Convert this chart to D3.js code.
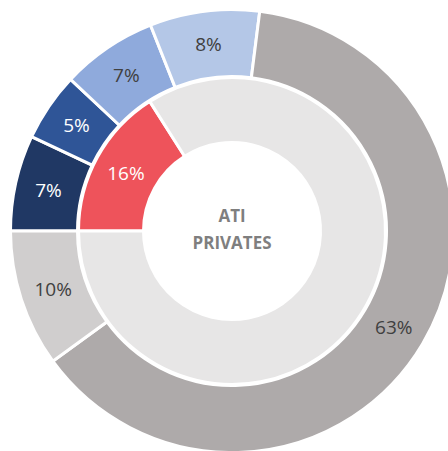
<!DOCTYPE html>
<html>
<head>
<meta charset="utf-8">
<script src="https://cdn.jsdelivr.net/npm/d3@7"></script>
<style>
  body { margin: 0; background: #fff; }
  svg { display: block; }
</style>
</head>
<body>
<svg width="448" height="451"></svg>
<script>
const svg = d3.select('svg');

// outer ring, clockwise from 9 o'clock
const outerNames = ["a", "b", "c", "d", "e", "f"];
const outerValues = [7, 5, 7, 8, 63, 10];
const outerColors = ["#203864", "#2f5597", "#8faadc", "#b4c7e7", "#aeaaaa", "#d0cece"];
const outerText = ["#ffffff", "#ffffff", "#404040", "#404040", "#404040", "#404040"];

// inner ring
const innerNames = ["ati", "rest"];
const innerValues = [16, 84];
const innerColors = ["#ee535b", "#e7e6e6"];
const innerText = ["#ffffff", null];

const centerLines = ["ATI", "PRIVATES"];

const cx = 232, cy = 231;
const start = -Math.PI / 2; // 9 o'clock

const pie = d3.pie().sort(null)
    .startAngle(start)
    .endAngle(start + 2 * Math.PI);

const g = svg.append('g').attr('transform', `translate(${cx},${cy})`);

const drawRing = (names, values, colors, textColors, r0, r1) => {
    const arcs = pie(values);
    const arc = d3.arc().innerRadius(r0).outerRadius(r1);
    const ring = g.append('g');
    ring.selectAll('path')
        .data(arcs)
        .enter().append('path')
        .attr('d', arc)
        .attr('fill', (d, i) => colors[i])
        .attr('stroke', '#fff')
        .attr('stroke-width', 3);
    ring.selectAll('text')
        .data(arcs.filter((d, i) => textColors[i]))
        .enter().append('text')
        .attr('transform', d => `translate(${arc.centroid(d)})`)
        .attr('text-anchor', 'middle')
        .attr('dy', '0.36em')
        .attr('font-family', "'Open Sans', sans-serif")
        .attr('font-size', 19)
        .attr('fill', d => textColors[d.index])
        .text(d => d.value + '%');
};

drawRing(outerNames, outerValues, outerColors, outerText, 154.5, 221.5);
drawRing(innerNames, innerValues, innerColors, innerText, 88.5, 153.5);

g.selectAll('.center')
    .data(centerLines)
    .enter().append('text')
    .attr('class', 'center')
    .attr('x', 0)
    .attr('y', (d, i) => -15 + i * 27)
    .attr('dy', '0.36em')
    .attr('text-anchor', 'middle')
    .attr('font-family', "'Open Sans', sans-serif")
    .attr('font-weight', 'bold')
    .attr('font-size', 17)
    .attr('fill', '#7f7f7f')
    .text(d => d);
</script>
</body>
</html>
